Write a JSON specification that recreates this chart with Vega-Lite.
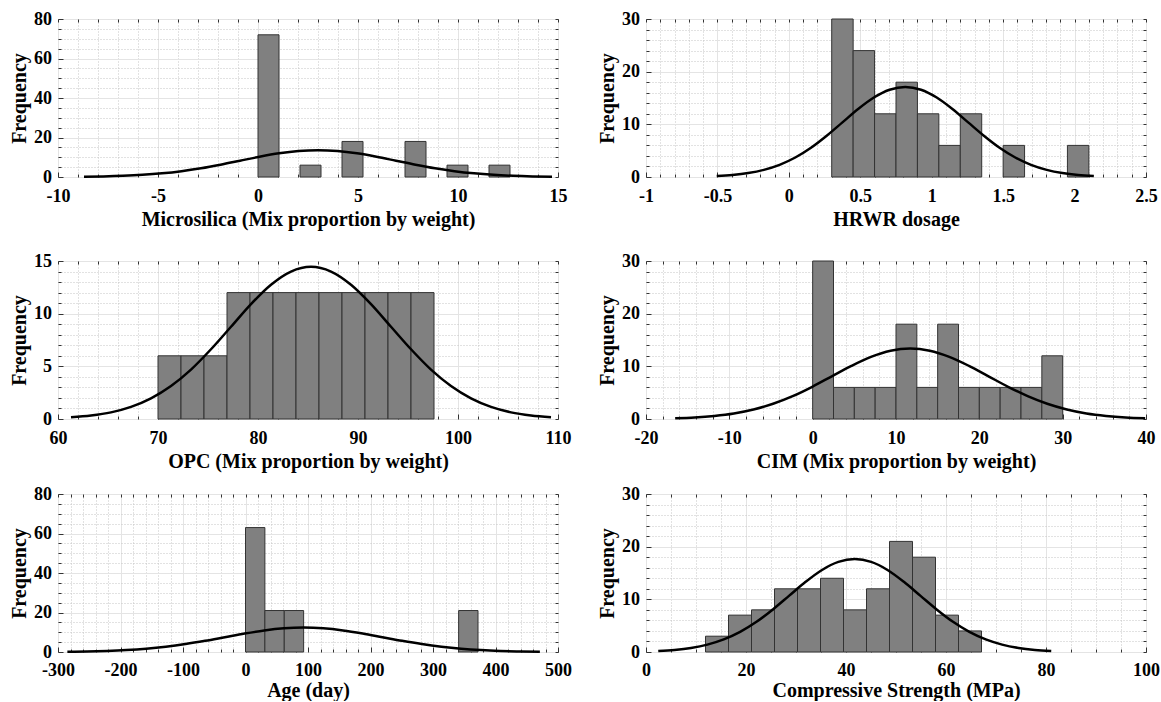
{
"$schema": "https://vega.github.io/schema/vega-lite/v6.json",
"background": "white",
"padding": {"left": 9, "top": 9, "right": 5, "bottom": 0},
"config": {
  "font": "Liberation Serif",
  "view": {"stroke": "#404040", "strokeWidth": 1},
  "axis": {"labelFont": "Liberation Serif", "labelFontWeight": "bold", "labelFontSize": 18, "labelColor": "black",
           "titleFont": "Liberation Serif", "titleFontWeight": "bold", "titleFontSize": 20, "titleColor": "black",
           "labelFlush": false, "labelOverlap": false, "labelBound": false, "domain": false,
           "gridColor": "#e4e4e4", "gridWidth": 1, "tickColor": "#333333", "tickWidth": 1},
  "axisBottom": {"labelPadding": 10, "titlePadding": 4.5},
  "axisLeft": {"labelPadding": 6.5, "titlePadding": 4}
},
"datasets": {
  "bars": [
    {"p":1,"lo":0,"hi":1.05,"n":72},{"p":1,"lo":2.1,"hi":3.15,"n":6},{"p":1,"lo":4.2,"hi":5.25,"n":18},{"p":1,"lo":7.35,"hi":8.4,"n":18},{"p":1,"lo":9.45,"hi":10.5,"n":6},{"p":1,"lo":11.55,"hi":12.6,"n":6},
    {"p":2,"lo":0.3,"hi":0.45,"n":30},{"p":2,"lo":0.45,"hi":0.6,"n":24},{"p":2,"lo":0.6,"hi":0.75,"n":12},{"p":2,"lo":0.75,"hi":0.9,"n":18},{"p":2,"lo":0.9,"hi":1.05,"n":12},{"p":2,"lo":1.05,"hi":1.2,"n":6},{"p":2,"lo":1.2,"hi":1.35,"n":12},{"p":2,"lo":1.5,"hi":1.65,"n":6},{"p":2,"lo":1.95,"hi":2.1,"n":6},
    {"p":3,"lo":70,"hi":72.3,"n":6},{"p":3,"lo":72.3,"hi":74.6,"n":6},{"p":3,"lo":74.6,"hi":76.9,"n":6},{"p":3,"lo":76.9,"hi":79.2,"n":12},{"p":3,"lo":79.2,"hi":81.5,"n":12},{"p":3,"lo":81.5,"hi":83.8,"n":12},{"p":3,"lo":83.8,"hi":86.1,"n":12},{"p":3,"lo":86.1,"hi":88.4,"n":12},{"p":3,"lo":88.4,"hi":90.7,"n":12},{"p":3,"lo":90.7,"hi":93.0,"n":12},{"p":3,"lo":93.0,"hi":95.3,"n":12},{"p":3,"lo":95.3,"hi":97.6,"n":12},
    {"p":4,"lo":0,"hi":2.5,"n":30},{"p":4,"lo":2.5,"hi":5,"n":6},{"p":4,"lo":5,"hi":7.5,"n":6},{"p":4,"lo":7.5,"hi":10,"n":6},{"p":4,"lo":10,"hi":12.5,"n":18},{"p":4,"lo":12.5,"hi":15,"n":6},{"p":4,"lo":15,"hi":17.5,"n":18},{"p":4,"lo":17.5,"hi":20,"n":6},{"p":4,"lo":20,"hi":22.5,"n":6},{"p":4,"lo":22.5,"hi":25,"n":6},{"p":4,"lo":25,"hi":27.5,"n":6},{"p":4,"lo":27.5,"hi":30,"n":12},
    {"p":5,"lo":0,"hi":31,"n":63},{"p":5,"lo":31,"hi":62,"n":21},{"p":5,"lo":62,"hi":93,"n":21},{"p":5,"lo":341,"hi":372,"n":21},
    {"p":6,"lo":11.9,"hi":16.5,"n":3},{"p":6,"lo":16.5,"hi":21.1,"n":7},{"p":6,"lo":21.1,"hi":25.7,"n":8},{"p":6,"lo":25.7,"hi":30.3,"n":12},{"p":6,"lo":30.3,"hi":34.9,"n":12},{"p":6,"lo":34.9,"hi":39.5,"n":14},{"p":6,"lo":39.5,"hi":44.1,"n":8},{"p":6,"lo":44.1,"hi":48.7,"n":12},{"p":6,"lo":48.7,"hi":53.3,"n":21},{"p":6,"lo":53.3,"hi":57.9,"n":18},{"p":6,"lo":57.9,"hi":62.5,"n":7},{"p":6,"lo":62.5,"hi":67.1,"n":4}
  ],
  "curve": [
    {"p":1,"x":-8.7,"y":0.15},{"p":1,"x":-7.725,"y":0.31},{"p":1,"x":-6.75,"y":0.6},{"p":1,"x":-5.775,"y":1.08},{"p":1,"x":-4.8,"y":1.84},{"p":1,"x":-3.825,"y":2.94},{"p":1,"x":-2.85,"y":4.42},{"p":1,"x":-1.875,"y":6.23},{"p":1,"x":-0.9,"y":8.25},{"p":1,"x":0.075,"y":10.27},{"p":1,"x":1.05,"y":12.0},{"p":1,"x":2.025,"y":13.18},{"p":1,"x":3.0,"y":13.6},{"p":1,"x":3.975,"y":13.18},{"p":1,"x":4.95,"y":12.0},{"p":1,"x":5.925,"y":10.27},{"p":1,"x":6.9,"y":8.25},{"p":1,"x":7.875,"y":6.23},{"p":1,"x":8.85,"y":4.42},{"p":1,"x":9.825,"y":2.94},{"p":1,"x":10.8,"y":1.84},{"p":1,"x":11.775,"y":1.08},{"p":1,"x":12.75,"y":0.6},{"p":1,"x":13.725,"y":0.31},{"p":1,"x":14.7,"y":0.15},
    {"p":2,"x":-0.505,"y":0.19},{"p":2,"x":-0.395,"y":0.39},{"p":2,"x":-0.285,"y":0.75},{"p":2,"x":-0.175,"y":1.36},{"p":2,"x":-0.065,"y":2.31},{"p":2,"x":0.045,"y":3.7},{"p":2,"x":0.155,"y":5.55},{"p":2,"x":0.265,"y":7.83},{"p":2,"x":0.375,"y":10.37},{"p":2,"x":0.485,"y":12.91},{"p":2,"x":0.595,"y":15.09},{"p":2,"x":0.705,"y":16.57},{"p":2,"x":0.815,"y":17.1},{"p":2,"x":0.925,"y":16.57},{"p":2,"x":1.035,"y":15.09},{"p":2,"x":1.145,"y":12.91},{"p":2,"x":1.255,"y":10.37},{"p":2,"x":1.365,"y":7.83},{"p":2,"x":1.475,"y":5.55},{"p":2,"x":1.585,"y":3.7},{"p":2,"x":1.695,"y":2.31},{"p":2,"x":1.805,"y":1.36},{"p":2,"x":1.915,"y":0.75},{"p":2,"x":2.025,"y":0.39},{"p":2,"x":2.135,"y":0.19},
    {"p":3,"x":61.3,"y":0.16},{"p":3,"x":63.3,"y":0.33},{"p":3,"x":65.3,"y":0.63},{"p":3,"x":67.3,"y":1.15},{"p":3,"x":69.3,"y":1.96},{"p":3,"x":71.3,"y":3.13},{"p":3,"x":73.3,"y":4.69},{"p":3,"x":75.3,"y":6.62},{"p":3,"x":77.3,"y":8.76},{"p":3,"x":79.3,"y":10.91},{"p":3,"x":81.3,"y":12.75},{"p":3,"x":83.3,"y":14.0},{"p":3,"x":85.3,"y":14.45},{"p":3,"x":87.3,"y":14.0},{"p":3,"x":89.3,"y":12.75},{"p":3,"x":91.3,"y":10.91},{"p":3,"x":93.3,"y":8.76},{"p":3,"x":95.3,"y":6.62},{"p":3,"x":97.3,"y":4.69},{"p":3,"x":99.3,"y":3.13},{"p":3,"x":101.3,"y":1.96},{"p":3,"x":103.3,"y":1.15},{"p":3,"x":105.3,"y":0.63},{"p":3,"x":107.3,"y":0.33},{"p":3,"x":109.3,"y":0.16},
    {"p":4,"x":-16.5,"y":0.15},{"p":4,"x":-14.15,"y":0.3},{"p":4,"x":-11.8,"y":0.59},{"p":4,"x":-9.45,"y":1.06},{"p":4,"x":-7.1,"y":1.81},{"p":4,"x":-4.75,"y":2.89},{"p":4,"x":-2.4,"y":4.34},{"p":4,"x":-0.05,"y":6.12},{"p":4,"x":2.3,"y":8.11},{"p":4,"x":4.65,"y":10.09},{"p":4,"x":7.0,"y":11.8},{"p":4,"x":9.35,"y":12.96},{"p":4,"x":11.7,"y":13.37},{"p":4,"x":14.05,"y":12.96},{"p":4,"x":16.4,"y":11.8},{"p":4,"x":18.75,"y":10.09},{"p":4,"x":21.1,"y":8.11},{"p":4,"x":23.45,"y":6.12},{"p":4,"x":25.8,"y":4.34},{"p":4,"x":28.15,"y":2.89},{"p":4,"x":30.5,"y":1.81},{"p":4,"x":32.85,"y":1.06},{"p":4,"x":35.2,"y":0.59},{"p":4,"x":37.55,"y":0.3},{"p":4,"x":39.9,"y":0.15},
    {"p":5,"x":-285,"y":0.14},{"p":5,"x":-253.5,"y":0.28},{"p":5,"x":-222,"y":0.54},{"p":5,"x":-190.5,"y":0.98},{"p":5,"x":-159,"y":1.67},{"p":5,"x":-127.5,"y":2.68},{"p":5,"x":-96,"y":4.02},{"p":5,"x":-64.5,"y":5.66},{"p":5,"x":-33,"y":7.5},{"p":5,"x":-1.5,"y":9.34},{"p":5,"x":30,"y":10.92},{"p":5,"x":61.5,"y":11.99},{"p":5,"x":93,"y":12.37},{"p":5,"x":124.5,"y":11.99},{"p":5,"x":156,"y":10.92},{"p":5,"x":187.5,"y":9.34},{"p":5,"x":219,"y":7.5},{"p":5,"x":250.5,"y":5.66},{"p":5,"x":282,"y":4.02},{"p":5,"x":313.5,"y":2.68},{"p":5,"x":345,"y":1.67},{"p":5,"x":376.5,"y":0.98},{"p":5,"x":408,"y":0.54},{"p":5,"x":439.5,"y":0.28},{"p":5,"x":471,"y":0.14},
    {"p":6,"x":2.45,"y":0.2},{"p":6,"x":5.725,"y":0.4},{"p":6,"x":9.0,"y":0.77},{"p":6,"x":12.275,"y":1.4},{"p":6,"x":15.55,"y":2.39},{"p":6,"x":18.825,"y":3.82},{"p":6,"x":22.1,"y":5.73},{"p":6,"x":25.375,"y":8.08},{"p":6,"x":28.65,"y":10.7},{"p":6,"x":31.925,"y":13.32},{"p":6,"x":35.2,"y":15.58},{"p":6,"x":38.475,"y":17.11},{"p":6,"x":41.75,"y":17.65},{"p":6,"x":45.025,"y":17.11},{"p":6,"x":48.3,"y":15.58},{"p":6,"x":51.575,"y":13.32},{"p":6,"x":54.85,"y":10.7},{"p":6,"x":58.125,"y":8.08},{"p":6,"x":61.4,"y":5.73},{"p":6,"x":64.675,"y":3.82},{"p":6,"x":67.95,"y":2.39},{"p":6,"x":71.225,"y":1.4},{"p":6,"x":74.5,"y":0.77},{"p":6,"x":77.775,"y":0.4},{"p":6,"x":81.05,"y":0.2}
  ]
},
"spacing": 12,
"vconcat": [
 {"spacing": 21, "vconcat": [
 {"hconcat": [
  {"width": 500, "height": 158,
   "layer": [
    {"data": {"name": "bars"}, "transform": [{"filter": "datum.p == 1"}],
     "mark": {"type": "bar", "fill": "#808080", "stroke": "#333333", "strokeWidth": 1},
     "encoding": {
      "x": {"field": "lo", "type": "quantitative", "scale": {"domain": [-10, 15], "nice": false, "zero": false},
            "axis": {"orient": "bottom", "values": [-10,-5,0,5,10,15], "title": "Microsilica (Mix proportion by weight)", "grid": true, "ticks": false, "tickSize": 0, "labelExpr": "datum.value < 0 ? '-' + format(-datum.value, '~g') : format(datum.value, '~g')"}},
      "x2": {"field": "hi"},
      "y": {"field": "n", "type": "quantitative", "scale": {"domain": [0, 80], "nice": false},
            "axis": {"orient": "left", "values": [0,20,40,60,80], "title": "Frequency", "grid": true, "ticks": false, "tickSize": 0}},
      "y2": {"datum": 0}}},
    {"data": {"name": "curve"}, "transform": [{"filter": "datum.p == 1"}],
     "mark": {"type": "line", "color": "black", "strokeWidth": 2.5, "interpolate": "monotone"},
     "encoding": {
      "x": {"field": "x", "type": "quantitative", "scale": {"domain": [-10, 15], "nice": false, "zero": false},
            "axis": {"orient": "bottom", "values": [-9,-8,-7,-6,-4,-3,-2,-1,1,2,3,4,6,7,8,9,11,12,13,14], "title": null, "labels": false, "grid": true, "gridDash": [1, 2], "gridColor": "#c4c4c4", "ticks": true, "tickSize": -3}},
      "y": {"field": "y", "type": "quantitative", "scale": {"domain": [0, 80], "nice": false},
            "axis": {"orient": "left", "values": [5,10,15,25,30,35,45,50,55,65,70,75], "title": null, "labels": false, "grid": true, "gridDash": [1, 2], "gridColor": "#c4c4c4", "ticks": true, "tickSize": -3}}}},
    {"data": {"name": "curve"}, "transform": [{"filter": "datum.p == 1"}],
     "mark": {"type": "line", "opacity": 0},
     "encoding": {
      "x": {"field": "x", "type": "quantitative", "scale": {"domain": [-10, 15], "nice": false, "zero": false},
            "axis": {"orient": "bottom", "values": [-10,-5,0,5,10,15], "title": null, "labels": false, "grid": false, "ticks": true, "tickSize": -5}},
      "y": {"field": "y", "type": "quantitative", "scale": {"domain": [0, 80], "nice": false},
            "axis": {"orient": "left", "values": [0,20,40,60,80], "title": null, "labels": false, "grid": false, "ticks": true, "tickSize": -5}}}},
    {"data": {"name": "curve"}, "transform": [{"filter": "datum.p == 1"}],
     "mark": {"type": "line", "opacity": 0},
     "encoding": {
      "x": {"field": "x", "type": "quantitative", "scale": {"domain": [-10, 15], "nice": false, "zero": false},
            "axis": {"orient": "top", "values": [-10,-9,-8,-7,-6,-5,-4,-3,-2,-1,0,1,2,3,4,5,6,7,8,9,10,11,12,13,14,15], "title": null, "labels": false, "grid": false, "ticks": true, "tickSize": -3}},
      "y": {"field": "y", "type": "quantitative", "scale": {"domain": [0, 80], "nice": false},
            "axis": {"orient": "right", "values": [0,5,10,15,20,25,30,35,40,45,50,55,60,65,70,75,80], "title": null, "labels": false, "grid": false, "ticks": true, "tickSize": -3}}}}
   ],
   "resolve": {"scale": {"x": "shared", "y": "shared"}, "axis": {"x": "independent", "y": "independent"}}},
  {"width": 500, "height": 158,
   "layer": [
    {"data": {"name": "bars"}, "transform": [{"filter": "datum.p == 2"}],
     "mark": {"type": "bar", "fill": "#808080", "stroke": "#333333", "strokeWidth": 1},
     "encoding": {
      "x": {"field": "lo", "type": "quantitative", "scale": {"domain": [-1, 2.5], "nice": false, "zero": false},
            "axis": {"orient": "bottom", "values": [-1,-0.5,0,0.5,1,1.5,2,2.5], "title": "HRWR dosage", "grid": true, "ticks": false, "tickSize": 0, "labelExpr": "datum.value < 0 ? '-' + format(-datum.value, '~g') : format(datum.value, '~g')"}},
      "x2": {"field": "hi"},
      "y": {"field": "n", "type": "quantitative", "scale": {"domain": [0, 30], "nice": false},
            "axis": {"orient": "left", "values": [0,10,20,30], "title": "Frequency", "grid": true, "ticks": false, "tickSize": 0}},
      "y2": {"datum": 0}}},
    {"data": {"name": "curve"}, "transform": [{"filter": "datum.p == 2"}],
     "mark": {"type": "line", "color": "black", "strokeWidth": 2.5, "interpolate": "monotone"},
     "encoding": {
      "x": {"field": "x", "type": "quantitative", "scale": {"domain": [-1, 2.5], "nice": false, "zero": false},
            "axis": {"orient": "bottom", "values": [-0.9,-0.8,-0.7,-0.6,-0.4,-0.3,-0.2,-0.1,0.1,0.2,0.3,0.4,0.6,0.7,0.8,0.9,1.1,1.2,1.3,1.4,1.6,1.7,1.8,1.9,2.1,2.2,2.3,2.4], "title": null, "labels": false, "grid": true, "gridDash": [1, 2], "gridColor": "#c4c4c4", "ticks": true, "tickSize": -3}},
      "y": {"field": "y", "type": "quantitative", "scale": {"domain": [0, 30], "nice": false},
            "axis": {"orient": "left", "values": [2,4,6,8,12,14,16,18,22,24,26,28], "title": null, "labels": false, "grid": true, "gridDash": [1, 2], "gridColor": "#c4c4c4", "ticks": true, "tickSize": -3}}}},
    {"data": {"name": "curve"}, "transform": [{"filter": "datum.p == 2"}],
     "mark": {"type": "line", "opacity": 0},
     "encoding": {
      "x": {"field": "x", "type": "quantitative", "scale": {"domain": [-1, 2.5], "nice": false, "zero": false},
            "axis": {"orient": "bottom", "values": [-1,-0.5,0,0.5,1,1.5,2,2.5], "title": null, "labels": false, "grid": false, "ticks": true, "tickSize": -5}},
      "y": {"field": "y", "type": "quantitative", "scale": {"domain": [0, 30], "nice": false},
            "axis": {"orient": "left", "values": [0,10,20,30], "title": null, "labels": false, "grid": false, "ticks": true, "tickSize": -5}}}},
    {"data": {"name": "curve"}, "transform": [{"filter": "datum.p == 2"}],
     "mark": {"type": "line", "opacity": 0},
     "encoding": {
      "x": {"field": "x", "type": "quantitative", "scale": {"domain": [-1, 2.5], "nice": false, "zero": false},
            "axis": {"orient": "top", "values": [-1,-0.9,-0.8,-0.7,-0.6,-0.5,-0.4,-0.3,-0.2,-0.1,0,0.1,0.2,0.3,0.4,0.5,0.6,0.7,0.8,0.9,1,1.1,1.2,1.3,1.4,1.5,1.6,1.7,1.8,1.9,2,2.1,2.2,2.3,2.4,2.5], "title": null, "labels": false, "grid": false, "ticks": true, "tickSize": -3}},
      "y": {"field": "y", "type": "quantitative", "scale": {"domain": [0, 30], "nice": false},
            "axis": {"orient": "right", "values": [0,2,4,6,8,10,12,14,16,18,20,22,24,26,28,30], "title": null, "labels": false, "grid": false, "ticks": true, "tickSize": -3}}}}
   ],
   "resolve": {"scale": {"x": "shared", "y": "shared"}, "axis": {"x": "independent", "y": "independent"}}}
 ], "spacing": 88, "bounds": "flush"},
 {"hconcat": [
  {"width": 500, "height": 158,
   "layer": [
    {"data": {"name": "bars"}, "transform": [{"filter": "datum.p == 3"}],
     "mark": {"type": "bar", "fill": "#808080", "stroke": "#333333", "strokeWidth": 1},
     "encoding": {
      "x": {"field": "lo", "type": "quantitative", "scale": {"domain": [60, 110], "nice": false, "zero": false},
            "axis": {"orient": "bottom", "values": [60,70,80,90,100,110], "title": "OPC (Mix proportion by weight)", "grid": true, "ticks": false, "tickSize": 0, "labelExpr": "datum.value < 0 ? '-' + format(-datum.value, '~g') : format(datum.value, '~g')"}},
      "x2": {"field": "hi"},
      "y": {"field": "n", "type": "quantitative", "scale": {"domain": [0, 15], "nice": false},
            "axis": {"orient": "left", "values": [0,5,10,15], "title": "Frequency", "grid": true, "ticks": false, "tickSize": 0}},
      "y2": {"datum": 0}}},
    {"data": {"name": "curve"}, "transform": [{"filter": "datum.p == 3"}],
     "mark": {"type": "line", "color": "black", "strokeWidth": 2.5, "interpolate": "monotone"},
     "encoding": {
      "x": {"field": "x", "type": "quantitative", "scale": {"domain": [60, 110], "nice": false, "zero": false},
            "axis": {"orient": "bottom", "values": [62,64,66,68,72,74,76,78,82,84,86,88,92,94,96,98,102,104,106,108], "title": null, "labels": false, "grid": true, "gridDash": [1, 2], "gridColor": "#c4c4c4", "ticks": true, "tickSize": -3}},
      "y": {"field": "y", "type": "quantitative", "scale": {"domain": [0, 15], "nice": false},
            "axis": {"orient": "left", "values": [1,2,3,4,6,7,8,9,11,12,13,14], "title": null, "labels": false, "grid": true, "gridDash": [1, 2], "gridColor": "#c4c4c4", "ticks": true, "tickSize": -3}}}},
    {"data": {"name": "curve"}, "transform": [{"filter": "datum.p == 3"}],
     "mark": {"type": "line", "opacity": 0},
     "encoding": {
      "x": {"field": "x", "type": "quantitative", "scale": {"domain": [60, 110], "nice": false, "zero": false},
            "axis": {"orient": "bottom", "values": [60,70,80,90,100,110], "title": null, "labels": false, "grid": false, "ticks": true, "tickSize": -5}},
      "y": {"field": "y", "type": "quantitative", "scale": {"domain": [0, 15], "nice": false},
            "axis": {"orient": "left", "values": [0,5,10,15], "title": null, "labels": false, "grid": false, "ticks": true, "tickSize": -5}}}},
    {"data": {"name": "curve"}, "transform": [{"filter": "datum.p == 3"}],
     "mark": {"type": "line", "opacity": 0},
     "encoding": {
      "x": {"field": "x", "type": "quantitative", "scale": {"domain": [60, 110], "nice": false, "zero": false},
            "axis": {"orient": "top", "values": [60,62,64,66,68,70,72,74,76,78,80,82,84,86,88,90,92,94,96,98,100,102,104,106,108,110], "title": null, "labels": false, "grid": false, "ticks": true, "tickSize": -3}},
      "y": {"field": "y", "type": "quantitative", "scale": {"domain": [0, 15], "nice": false},
            "axis": {"orient": "right", "values": [0,1,2,3,4,5,6,7,8,9,10,11,12,13,14,15], "title": null, "labels": false, "grid": false, "ticks": true, "tickSize": -3}}}}
   ],
   "resolve": {"scale": {"x": "shared", "y": "shared"}, "axis": {"x": "independent", "y": "independent"}}},
  {"width": 500, "height": 158,
   "layer": [
    {"data": {"name": "bars"}, "transform": [{"filter": "datum.p == 4"}],
     "mark": {"type": "bar", "fill": "#808080", "stroke": "#333333", "strokeWidth": 1},
     "encoding": {
      "x": {"field": "lo", "type": "quantitative", "scale": {"domain": [-20, 40], "nice": false, "zero": false},
            "axis": {"orient": "bottom", "values": [-20,-10,0,10,20,30,40], "title": "CIM (Mix proportion by weight)", "grid": true, "ticks": false, "tickSize": 0, "labelExpr": "datum.value < 0 ? '-' + format(-datum.value, '~g') : format(datum.value, '~g')"}},
      "x2": {"field": "hi"},
      "y": {"field": "n", "type": "quantitative", "scale": {"domain": [0, 30], "nice": false},
            "axis": {"orient": "left", "values": [0,10,20,30], "title": "Frequency", "grid": true, "ticks": false, "tickSize": 0}},
      "y2": {"datum": 0}}},
    {"data": {"name": "curve"}, "transform": [{"filter": "datum.p == 4"}],
     "mark": {"type": "line", "color": "black", "strokeWidth": 2.5, "interpolate": "monotone"},
     "encoding": {
      "x": {"field": "x", "type": "quantitative", "scale": {"domain": [-20, 40], "nice": false, "zero": false},
            "axis": {"orient": "bottom", "values": [-18,-16,-14,-12,-8,-6,-4,-2,2,4,6,8,12,14,16,18,22,24,26,28,32,34,36,38], "title": null, "labels": false, "grid": true, "gridDash": [1, 2], "gridColor": "#c4c4c4", "ticks": true, "tickSize": -3}},
      "y": {"field": "y", "type": "quantitative", "scale": {"domain": [0, 30], "nice": false},
            "axis": {"orient": "left", "values": [2,4,6,8,12,14,16,18,22,24,26,28], "title": null, "labels": false, "grid": true, "gridDash": [1, 2], "gridColor": "#c4c4c4", "ticks": true, "tickSize": -3}}}},
    {"data": {"name": "curve"}, "transform": [{"filter": "datum.p == 4"}],
     "mark": {"type": "line", "opacity": 0},
     "encoding": {
      "x": {"field": "x", "type": "quantitative", "scale": {"domain": [-20, 40], "nice": false, "zero": false},
            "axis": {"orient": "bottom", "values": [-20,-10,0,10,20,30,40], "title": null, "labels": false, "grid": false, "ticks": true, "tickSize": -5}},
      "y": {"field": "y", "type": "quantitative", "scale": {"domain": [0, 30], "nice": false},
            "axis": {"orient": "left", "values": [0,10,20,30], "title": null, "labels": false, "grid": false, "ticks": true, "tickSize": -5}}}},
    {"data": {"name": "curve"}, "transform": [{"filter": "datum.p == 4"}],
     "mark": {"type": "line", "opacity": 0},
     "encoding": {
      "x": {"field": "x", "type": "quantitative", "scale": {"domain": [-20, 40], "nice": false, "zero": false},
            "axis": {"orient": "top", "values": [-20,-18,-16,-14,-12,-10,-8,-6,-4,-2,0,2,4,6,8,10,12,14,16,18,20,22,24,26,28,30,32,34,36,38,40], "title": null, "labels": false, "grid": false, "ticks": true, "tickSize": -3}},
      "y": {"field": "y", "type": "quantitative", "scale": {"domain": [0, 30], "nice": false},
            "axis": {"orient": "right", "values": [0,2,4,6,8,10,12,14,16,18,20,22,24,26,28,30], "title": null, "labels": false, "grid": false, "ticks": true, "tickSize": -3}}}}
   ],
   "resolve": {"scale": {"x": "shared", "y": "shared"}, "axis": {"x": "independent", "y": "independent"}}}
 ], "spacing": 88, "bounds": "flush"}
 ]},
 {"hconcat": [
  {"width": 500, "height": 158,
   "layer": [
    {"data": {"name": "bars"}, "transform": [{"filter": "datum.p == 5"}],
     "mark": {"type": "bar", "fill": "#808080", "stroke": "#333333", "strokeWidth": 1},
     "encoding": {
      "x": {"field": "lo", "type": "quantitative", "scale": {"domain": [-300, 500], "nice": false, "zero": false},
            "axis": {"orient": "bottom", "values": [-300,-200,-100,0,100,200,300,400,500], "title": "Age (day)", "labelPadding": 9.5, "titlePadding": 0.5, "grid": true, "ticks": false, "tickSize": 0, "labelExpr": "datum.value < 0 ? '-' + format(-datum.value, '~g') : format(datum.value, '~g')"}},
      "x2": {"field": "hi"},
      "y": {"field": "n", "type": "quantitative", "scale": {"domain": [0, 80], "nice": false},
            "axis": {"orient": "left", "values": [0,20,40,60,80], "title": "Frequency", "grid": true, "ticks": false, "tickSize": 0}},
      "y2": {"datum": 0}}},
    {"data": {"name": "curve"}, "transform": [{"filter": "datum.p == 5"}],
     "mark": {"type": "line", "color": "black", "strokeWidth": 2.5, "interpolate": "monotone"},
     "encoding": {
      "x": {"field": "x", "type": "quantitative", "scale": {"domain": [-300, 500], "nice": false, "zero": false},
            "axis": {"orient": "bottom", "values": [-280,-260,-240,-220,-180,-160,-140,-120,-80,-60,-40,-20,20,40,60,80,120,140,160,180,220,240,260,280,320,340,360,380,420,440,460,480], "title": null, "labels": false, "grid": true, "gridDash": [1, 2], "gridColor": "#c4c4c4", "ticks": true, "tickSize": -3}},
      "y": {"field": "y", "type": "quantitative", "scale": {"domain": [0, 80], "nice": false},
            "axis": {"orient": "left", "values": [5,10,15,25,30,35,45,50,55,65,70,75], "title": null, "labels": false, "grid": true, "gridDash": [1, 2], "gridColor": "#c4c4c4", "ticks": true, "tickSize": -3}}}},
    {"data": {"name": "curve"}, "transform": [{"filter": "datum.p == 5"}],
     "mark": {"type": "line", "opacity": 0},
     "encoding": {
      "x": {"field": "x", "type": "quantitative", "scale": {"domain": [-300, 500], "nice": false, "zero": false},
            "axis": {"orient": "bottom", "values": [-300,-200,-100,0,100,200,300,400,500], "title": null, "labels": false, "grid": false, "ticks": true, "tickSize": -5}},
      "y": {"field": "y", "type": "quantitative", "scale": {"domain": [0, 80], "nice": false},
            "axis": {"orient": "left", "values": [0,20,40,60,80], "title": null, "labels": false, "grid": false, "ticks": true, "tickSize": -5}}}},
    {"data": {"name": "curve"}, "transform": [{"filter": "datum.p == 5"}],
     "mark": {"type": "line", "opacity": 0},
     "encoding": {
      "x": {"field": "x", "type": "quantitative", "scale": {"domain": [-300, 500], "nice": false, "zero": false},
            "axis": {"orient": "top", "values": [-300,-280,-260,-240,-220,-200,-180,-160,-140,-120,-100,-80,-60,-40,-20,0,20,40,60,80,100,120,140,160,180,200,220,240,260,280,300,320,340,360,380,400,420,440,460,480,500], "title": null, "labels": false, "grid": false, "ticks": true, "tickSize": -3}},
      "y": {"field": "y", "type": "quantitative", "scale": {"domain": [0, 80], "nice": false},
            "axis": {"orient": "right", "values": [0,5,10,15,20,25,30,35,40,45,50,55,60,65,70,75,80], "title": null, "labels": false, "grid": false, "ticks": true, "tickSize": -3}}}}
   ],
   "resolve": {"scale": {"x": "shared", "y": "shared"}, "axis": {"x": "independent", "y": "independent"}}},
  {"width": 500, "height": 158,
   "layer": [
    {"data": {"name": "bars"}, "transform": [{"filter": "datum.p == 6"}],
     "mark": {"type": "bar", "fill": "#808080", "stroke": "#333333", "strokeWidth": 1},
     "encoding": {
      "x": {"field": "lo", "type": "quantitative", "scale": {"domain": [0, 100], "nice": false, "zero": false},
            "axis": {"orient": "bottom", "values": [0,20,40,60,80,100], "title": "Compressive Strength (MPa)", "labelPadding": 9.5, "titlePadding": 0.5, "grid": true, "ticks": false, "tickSize": 0, "labelExpr": "datum.value < 0 ? '-' + format(-datum.value, '~g') : format(datum.value, '~g')"}},
      "x2": {"field": "hi"},
      "y": {"field": "n", "type": "quantitative", "scale": {"domain": [0, 30], "nice": false},
            "axis": {"orient": "left", "values": [0,10,20,30], "title": "Frequency", "grid": true, "ticks": false, "tickSize": 0}},
      "y2": {"datum": 0}}},
    {"data": {"name": "curve"}, "transform": [{"filter": "datum.p == 6"}],
     "mark": {"type": "line", "color": "black", "strokeWidth": 2.5, "interpolate": "monotone"},
     "encoding": {
      "x": {"field": "x", "type": "quantitative", "scale": {"domain": [0, 100], "nice": false, "zero": false},
            "axis": {"orient": "bottom", "values": [5,10,15,25,30,35,45,50,55,65,70,75,85,90,95], "title": null, "labels": false, "grid": true, "gridDash": [1, 2], "gridColor": "#c4c4c4", "ticks": true, "tickSize": -3}},
      "y": {"field": "y", "type": "quantitative", "scale": {"domain": [0, 30], "nice": false},
            "axis": {"orient": "left", "values": [2,4,6,8,12,14,16,18,22,24,26,28], "title": null, "labels": false, "grid": true, "gridDash": [1, 2], "gridColor": "#c4c4c4", "ticks": true, "tickSize": -3}}}},
    {"data": {"name": "curve"}, "transform": [{"filter": "datum.p == 6"}],
     "mark": {"type": "line", "opacity": 0},
     "encoding": {
      "x": {"field": "x", "type": "quantitative", "scale": {"domain": [0, 100], "nice": false, "zero": false},
            "axis": {"orient": "bottom", "values": [0,20,40,60,80,100], "title": null, "labels": false, "grid": false, "ticks": true, "tickSize": -5}},
      "y": {"field": "y", "type": "quantitative", "scale": {"domain": [0, 30], "nice": false},
            "axis": {"orient": "left", "values": [0,10,20,30], "title": null, "labels": false, "grid": false, "ticks": true, "tickSize": -5}}}},
    {"data": {"name": "curve"}, "transform": [{"filter": "datum.p == 6"}],
     "mark": {"type": "line", "opacity": 0},
     "encoding": {
      "x": {"field": "x", "type": "quantitative", "scale": {"domain": [0, 100], "nice": false, "zero": false},
            "axis": {"orient": "top", "values": [0,5,10,15,20,25,30,35,40,45,50,55,60,65,70,75,80,85,90,95,100], "title": null, "labels": false, "grid": false, "ticks": true, "tickSize": -3}},
      "y": {"field": "y", "type": "quantitative", "scale": {"domain": [0, 30], "nice": false},
            "axis": {"orient": "right", "values": [0,2,4,6,8,10,12,14,16,18,20,22,24,26,28,30], "title": null, "labels": false, "grid": false, "ticks": true, "tickSize": -3}}}}
   ],
   "resolve": {"scale": {"x": "shared", "y": "shared"}, "axis": {"x": "independent", "y": "independent"}}}
 ], "spacing": 88, "bounds": "flush"}
]
}
